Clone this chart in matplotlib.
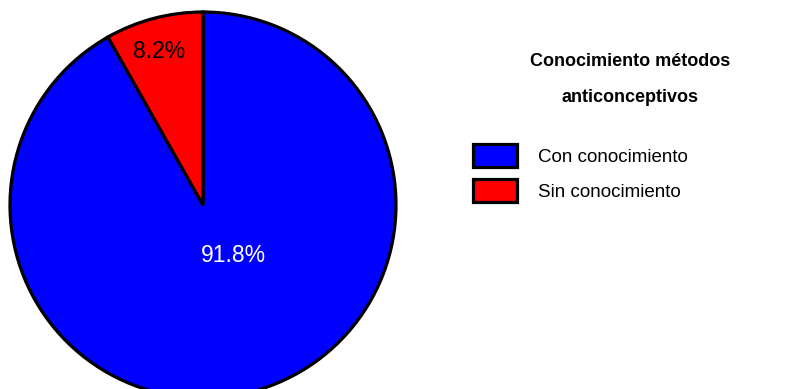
import matplotlib
matplotlib.use("Agg")
import matplotlib.pyplot as plt

plt.rcParams["font.family"] = ["Liberation Sans", "DejaVu Sans"]

# Data
categories = ["Con conocimiento", "Sin conocimiento"]
percentages = [91.8, 8.2]
colors = ["#0000FF", "#FF0000"]
title_lines = ["Conocimiento métodos", "anticonceptivos"]

W, H = 804, 389
fig = plt.figure(figsize=(W / 100, H / 100), dpi=100)

# Pie axes: circle centred at (203, 205) px with radius 193 px
cx, cy, r = 203, 205, 193
ax = fig.add_axes([(cx - r) / W, 1 - (cy + r) / H, 2 * r / W, 2 * r / H])
wedges, texts, autotexts = ax.pie(
    percentages,
    colors=colors,
    startangle=90,
    counterclock=False,
    radius=1.0,
    autopct=lambda p: f"{p:.1f}%",
    wedgeprops=dict(edgecolor="black", linewidth=2.3),
    textprops=dict(fontsize=16.5),
)
for w in wedges:
    w.set_clip_on(False)
ax.set_xlim(-1, 1)
ax.set_ylim(-1, 1)
ax.set_aspect("equal")
ax.axis("off")

# Label placement inside each slice
autotexts[0].set_position((0.16, -0.264))
autotexts[0].set_color("white")
autotexts[1].set_position((-0.228, 0.793))
autotexts[1].set_color("black")
for t in autotexts:
    t.set_ha("center")
    t.set_va("center")

# Title above the legend
fig.text(630 / W, 1 - 61 / H, title_lines[0], ha="center", va="center",
         fontsize=13, fontweight="bold")
fig.text(630 / W, 1 - 97 / H, title_lines[1], ha="center", va="center",
         fontsize=13, fontweight="bold")

leg = fig.legend(
    wedges, categories,
    loc="upper left",
    bbox_to_anchor=(473 / W, 1 - 144 / H),
    bbox_transform=fig.transFigure,
    frameon=False,
    fontsize=13.5,
    handlelength=2.35,
    handleheight=1.51,
    handletextpad=1.12,
    labelspacing=0.64,
    borderpad=0,
    borderaxespad=0,
)
for h in leg.legend_handles:
    h.set_linewidth(2.3)
    h.set_edgecolor("black")

fig.savefig("out.png", dpi=100)
